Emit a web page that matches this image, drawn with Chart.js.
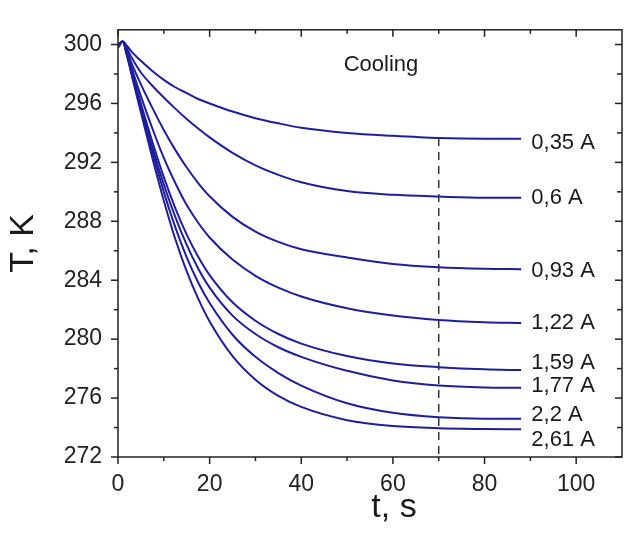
<!DOCTYPE html>
<html>
<head>
<meta charset="utf-8">
<script src="https://cdn.jsdelivr.net/npm/chart.js@4/dist/chart.umd.min.js"></script>
<style>
  html, body { margin: 0; padding: 0; background: #fff; }
  #wrap { width: 624px; height: 539px; }
</style>
</head>
<body>
<div id="wrap"><canvas id="chart"></canvas></div>
<script>
// Время, с
const times = [0, 1, 2, 3, 5, 7.5, 10, 12.5, 15, 17.5, 20, 25, 30, 35, 40, 50, 60, 70, 80, 88];

// Токи и подписи кривых
const currents = ['0,35 A', '0,6 A', '0,93 A', '1,22 A', '1,59 A', '1,77 A', '2,2 A', '2,61 A'];

// Температура, K, для каждого тока
const T035 = [300.0, 300.2, 299.9, 299.5, 298.9, 298.2, 297.6, 297.1, 296.7, 296.3, 296.0, 295.45, 295.0, 294.65, 294.35, 294.0, 293.8, 293.65, 293.6, 293.6];
const T060 = [299.9, 300.2, 299.7, 299.1, 298.1, 297.2, 296.4, 295.65, 294.95, 294.3, 293.7, 292.65, 291.8, 291.15, 290.65, 290.05, 289.8, 289.68, 289.6, 289.6];
const T093 = [299.9, 300.2, 299.5, 298.7, 297.3, 295.7, 294.2, 292.85, 291.65, 290.6, 289.7, 288.3, 287.3, 286.6, 286.1, 285.55, 285.1, 284.88, 284.78, 284.75];
const T122 = [299.8, 300.2, 299.4, 298.4, 296.5, 294.3, 292.3, 290.6, 289.1, 287.9, 286.9, 285.4, 284.3, 283.5, 282.9, 282.1, 281.6, 281.3, 281.15, 281.1];
const T159 = [299.8, 300.2, 299.3, 298.2, 296.0, 293.4, 291.0, 288.9, 287.1, 285.6, 284.35, 282.5, 281.25, 280.35, 279.7, 278.85, 278.35, 278.1, 277.95, 277.9];
const T177 = [299.8, 300.2, 299.3, 298.1, 295.8, 293.0, 290.5, 288.3, 286.4, 284.8, 283.5, 281.6, 280.35, 279.45, 278.8, 277.85, 277.2, 276.85, 276.72, 276.7];
const T220 = [299.9, 300.2, 299.2, 298.0, 295.6, 292.7, 290.0, 287.6, 285.55, 283.85, 282.45, 280.3, 278.8, 277.7, 276.85, 275.65, 275.0, 274.7, 274.6, 274.6];
const T261 = [299.9, 300.2, 299.2, 297.9, 295.4, 292.3, 289.4, 286.8, 284.6, 282.75, 281.2, 278.85, 277.25, 276.15, 275.4, 274.5, 274.1, 273.95, 273.9, 273.88];
const series = [T035, T060, T093, T122, T159, T177, T220, T261];

// Где по вертикали стоят подписи токов, K
const labelT = [293.3, 289.6, 284.65, 281.1, 278.4, 276.8, 274.85, 273.15];

// Момент времени, отмеченный пунктиром
const markTime = 70;

// Деления осей
const xTicks = [0, 20, 40, 60, 80, 100];
const xMinor = [10, 30, 50, 70, 90];
const yTicks = [272, 276, 280, 284, 288, 292, 296, 300];
const yMinor = [274, 278, 282, 286, 290, 294, 298];

const lineColor = '#1f1f9c';
const font = 'Liberation Sans, Arial, sans-serif';

const datasets = series.map((vals, i) => ({
    label: currents[i],
    data: times.map((t, k) => ({ x: t, y: vals[k] })),
    borderColor: lineColor,
    borderWidth: 2,
    pointRadius: 0,
    cubicInterpolationMode: 'monotone',
    fill: false
}));

// Вертикальный пунктир от верхней кривой до оси
const markIdx = times.indexOf(markTime);
datasets.push({
    label: 'mark',
    data: [{ x: markTime, y: T035[markIdx] }, { x: markTime, y: 272 }],
    borderColor: '#333',
    borderWidth: 1.5,
    borderDash: [8, 6],
    pointRadius: 0,
    fill: false
});

// Рамка, засечки, подписи кривых и названия осей
const decor = {
    id: 'decor',
    afterDraw(chart) {
        const { ctx, chartArea: a, scales: { x, y } } = chart;
        ctx.save();
        ctx.strokeStyle = '#222';
        ctx.lineWidth = 1.5;
        ctx.strokeRect(a.left, a.top, a.right - a.left, a.bottom - a.top);

        const seg = (x1, y1, x2, y2) => {
            ctx.beginPath(); ctx.moveTo(x1, y1); ctx.lineTo(x2, y2); ctx.stroke();
        };
        xTicks.forEach(v => {
            const p = x.getPixelForValue(v);
            seg(p, a.bottom, p, a.bottom + 7);
            seg(p, a.top, p, a.top + 7);
        });
        xMinor.forEach(v => {
            const p = x.getPixelForValue(v);
            seg(p, a.bottom, p, a.bottom + 4);
            seg(p, a.top, p, a.top + 4);
        });
        yTicks.forEach(v => {
            const p = y.getPixelForValue(v);
            seg(a.left - 7, p, a.left, p);
            seg(a.right - 7, p, a.right, p);
        });
        yMinor.forEach(v => {
            const p = y.getPixelForValue(v);
            seg(a.left - 4, p, a.left, p);
            seg(a.right - 5, p, a.right, p);
        });

        ctx.fillStyle = '#1a1a1a';
        ctx.textBaseline = 'middle';
        ctx.textAlign = 'left';
        ctx.font = '22px ' + font;
        currents.forEach((name, i) => {
            ctx.fillText(name, x.getPixelForValue(90.2), y.getPixelForValue(labelT[i]));
        });

        ctx.textAlign = 'center';
        ctx.font = '22px ' + font;
        ctx.fillText('Cooling', x.getPixelForValue(57.4), y.getPixelForValue(298.6));

        ctx.font = '34px ' + font;
        ctx.fillText('t, s', 394, 508);
        ctx.translate(24, (a.top + a.bottom) / 2);
        ctx.rotate(-Math.PI / 2);
        ctx.fillText('T, K', 0, 0);
        ctx.restore();
    }
};

new Chart(document.getElementById('chart'), {
    type: 'line',
    data: { datasets },
    options: {
        responsive: true,
        maintainAspectRatio: false,
        animation: false,
        layout: { padding: { top: 9, right: 2, left: 0, bottom: 0 } },
        plugins: {
            legend: { display: false },
            tooltip: { enabled: false }
        },
        scales: {
            x: {
                type: 'linear',
                min: 0,
                max: 110,
                afterBuildTicks: s => { s.ticks = xTicks.map(v => ({ value: v })); },
                afterFit: s => { s.height = 82; },
                grid: { display: false, drawTicks: false },
                border: { display: false },
                ticks: { color: '#222', padding: 14, font: { family: font, size: 23 }, maxRotation: 0 }
            },
            y: {
                min: 272,
                max: 301,
                afterBuildTicks: s => { s.ticks = yTicks.map(v => ({ value: v })); },
                afterFit: s => { s.width = 118; },
                grid: { display: false, drawTicks: false },
                border: { display: false },
                ticks: { color: '#222', padding: 16, font: { family: font, size: 23 } }
            }
        }
    },
    plugins: [decor]
});
</script>
</body>
</html>
